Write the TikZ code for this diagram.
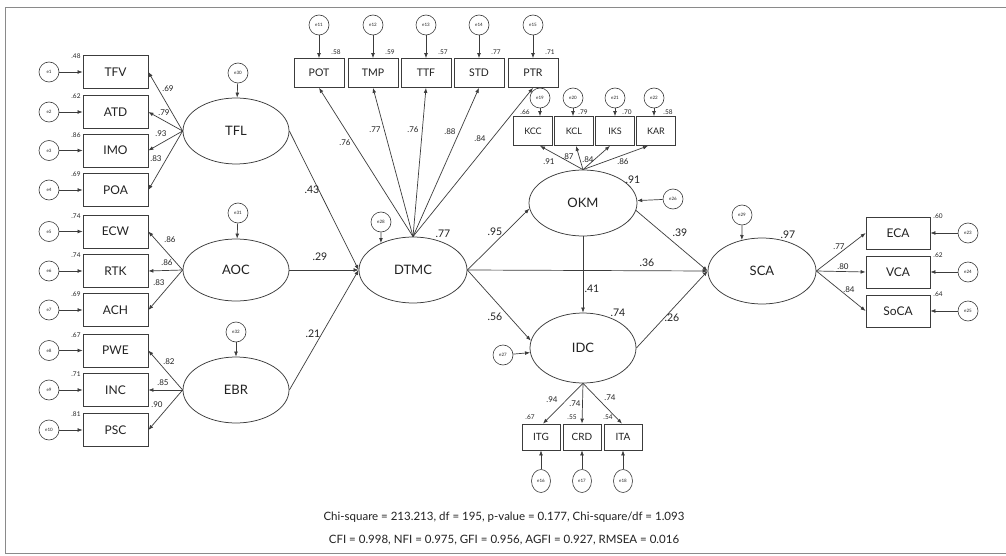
\documentclass[tikz,border=0pt]{standalone}
\usepackage{fontspec}
\setmainfont{Lato}
\usetikzlibrary{arrows.meta,shapes.geometric}
\definecolor{linec}{HTML}{3C3C3C}
\definecolor{txtc}{HTML}{222222}
\definecolor{framec}{HTML}{8A8A8A}
\begin{document}
\begin{tikzpicture}[x=1pt,y=-1pt,
  every node/.style={text=txtc},
  obs/.style={draw=linec, line width=0.75pt, rectangle, inner sep=0pt},
  obsL/.style={obs, minimum width=65pt, minimum height=33pt, font=\fontsize{12}{12}\selectfont},
  obsT/.style={obs, minimum width=50pt, minimum height=29pt, font=\fontsize{10.5}{10.5}\selectfont},
  obsK/.style={obs, minimum width=39pt, minimum height=29pt, font=\fontsize{9}{9}\selectfont},
  obsB/.style={obs, minimum width=38pt, minimum height=26pt, font=\fontsize{10}{10}\selectfont},
  obsR/.style={obs, minimum width=64pt, minimum height=32pt, font=\fontsize{12}{12}\selectfont},
  lat/.style={draw=linec, line width=0.75pt, ellipse, inner sep=0pt, minimum width=106pt, minimum height=66pt, font=\fontsize{13}{13}\selectfont},
  err/.style={draw=linec, line width=0.6pt, circle, inner sep=0pt, minimum size=20pt, font=\fontsize{4.5}{5}\selectfont},
  errB/.style={draw=linec, line width=0.6pt, ellipse, inner sep=0pt, minimum width=19pt, minimum height=23pt, font=\fontsize{4.5}{5}\selectfont},
  arr/.style={draw=linec, line width=0.7pt, -{Latex[length=5pt,width=3.8pt]}},
  coef/.style={font=\fontsize{10.5}{10.5}\selectfont, inner sep=0pt},
  ld/.style={font=\fontsize{8}{8}\selectfont, inner sep=0pt},
  rsq/.style={font=\fontsize{6.5}{6.5}\selectfont, inner sep=0pt},
  fit/.style={font=\fontsize{11.5}{12}\selectfont, inner sep=0pt}
]
\useasboundingbox (0,0) rectangle (1006,556);
\fill[white] (0,0) rectangle (1006,556);
\draw[framec, line width=0.8pt] (5,7) rectangle (1014,553);

% ---------- left indicators ----------
\foreach \n/\y/\e/\r in {TFV/72/1/.48, ATD/112/2/.62, IMO/150.5/3/.86, POA/190/4/.69,
  ECW/231.5/5/.74, RTK/271/6/.74, ACH/310/7/.69, PWE/350.5/8/.67, INC/390/9/.71, PSC/430/10/.81}{
  \node[obsL] (\n) at (115.5,\y) {\n};
  \node[err] (e\e) at (49,\y) {e\e};
  \draw[arr] (e\e) -- (\n);
  \node[rsq] (r\n) at (76,{\y-15.5}) {\r};
}

% ---------- exogenous latents ----------
\node[lat] (TFL) at (236,131) {TFL};
\node[lat, minimum height=62pt] (AOC) at (236,270) {AOC};
\node[lat] (EBR) at (236,390) {EBR};
\node[err] (e30) at (238,73) {e30};
\node[err] (e31) at (238,213) {e31};
\node[err] (e32) at (236,332) {e32};
\draw[arr] (e30) -- (TFL);
\draw[arr] (e31) -- (AOC);
\draw[arr] (e32) -- (EBR);

\foreach \b in {TFV,ATD,IMO,POA}{\draw[arr] (TFL.west) -- (\b.east);}
\foreach \b in {ECW,RTK,ACH}{\draw[arr] (AOC.west) -- (\b.east);}
\foreach \b in {PWE,INC,PSC}{\draw[arr] (EBR.west) -- (\b.east);}
\node[ld] (l1) at (168,89) {.69};
\node[ld] (l2) at (164,113) {.79};
\node[ld] (l3) at (161,134) {.93};
\node[ld] (l4) at (156,159) {.83};
\node[ld] (l5) at (170,240) {.86};
\node[ld] (l6) at (167,263) {.86};
\node[ld] (l7) at (159,283) {.83};
\node[ld] (l8) at (169,362) {.82};
\node[ld] (l9) at (163,383) {.85};
\node[ld] (l10) at (157,405) {.90};

% ---------- DTMC ----------
\node[lat, minimum width=108pt] (DTMC) at (413,270) {DTMC};
\node[err] (e28) at (381,222) {e28};
\draw[arr] (e28.south) -- (DTMC.140);
\node[coef] (rD) at (443,234) {.77};

\draw[arr] (TFL.east) -- (DTMC.west);
\draw[arr] (AOC.east) -- (DTMC.west);
\draw[arr] (EBR.east) -- (DTMC.west);
\node[coef] (c43) at (312,190) {.43};
\node[coef] (c29) at (320,257) {.29};
\node[coef] (c21) at (313,334) {.21};

% top indicators
\foreach \n/\x/\e/\r in {POT/319/11/.58, TMP/373/12/.59, TTF/426/13/.57, STD/479/14/.77, PTR/533/15/.71}{
  \node[obsT] (\n) at (\x,73) {\n};
  \node[err] (e\e) at (\x,25) {e\e};
  \draw[arr] (e\e) -- (\n);
  \node[rsq] (r\n) at ({\x+17},52) {\r};
  \draw[arr] (DTMC.north) -- (\n.south);
}
\node[ld] (t1) at (345,143) {.76};
\node[ld] (t2) at (375,130) {.77};
\node[ld] (t3) at (413,130) {.76};
\node[ld] (t4) at (450,132) {.88};
\node[ld] (t5) at (480,139) {.84};

% ---------- OKM ----------
\node[lat, minimum width=108pt] (OKM) at (583,203) {OKM};
\node[err] (e26) at (673,199) {e26};
\draw[arr] (e26) -- (OKM);
\node[coef] (rO) at (633,180) {.91};
\foreach \n/\x/\e/\ex/\r/\rx in {KCC/533/19/540/.66/525, KCL/574/20/573/.79/583, IKS/615/21/615/.70/627, KAR/656/22/654/.58/668}{
  \node[obsK] (\n) at (\x,131) {\n};
  \node[err] (e\e) at (\ex,98) {e\e};
  \draw[arr] (e\e.south) -- (e\e.south |- \n.north);
  \node[rsq] (r\n) at (\rx,112) {\r};
}
\draw[arr] (OKM.north) -- ([xshift=7pt]KCC.south);
\draw[arr] (OKM.north) -- ([xshift=2pt]KCL.south);
\draw[arr] (OKM.north) -- ([xshift=-5pt]IKS.south);
\draw[arr] (OKM.north) -- ([xshift=-8pt]KAR.south);
\node[ld] (k1) at (549,162) {.91};
\node[ld] (k2) at (568,157) {.87};
\node[ld] (k3) at (588,160) {.84};
\node[ld] (k4) at (623,162) {.86};

% ---------- IDC ----------
\node[lat, minimum height=70pt] (IDC) at (583,348) {IDC};
\node[err] (e27) at (503,355) {e27};
\draw[arr] (e27) -- (IDC);
\node[coef] (rI) at (618,313) {.74};
\foreach \n/\x/\e/\r/\rx in {ITG/541/16/.67/530, CRD/582/17/.55/572, ITA/623/18/.54/608}{
  \node[obsB] (\n) at (\x,437) {\n};
  \node[errB] (e\e) at (\x,481) {e\e};
  \draw[arr] (e\e) -- (\n);
  \node[rsq] (r\n) at (\rx,417) {\r};
}
\draw[arr] (IDC.south) -- ([xshift=2pt]ITG.north);
\draw[arr] (IDC.south) -- (CRD.north);
\draw[arr] (IDC.south) -- ([xshift=-1pt]ITA.north);
\node[ld] (i1) at (552,400) {.94};
\node[ld] (i2) at (575,404) {.74};
\node[ld] (i3) at (610,398) {.74};

% ---------- SCA ----------
\node[lat, minimum width=108pt] (SCA) at (762,271) {SCA};
\node[err] (e29) at (742,215) {e29};
\draw[arr] (e29.south) -- (SCA.123);
\node[coef] (rS) at (788,235) {.97};

\draw[arr] (DTMC.east) -- (OKM.186);
\draw[arr] (DTMC.east) -- (IDC.172);
\draw[arr] (OKM.south) -- (IDC.north);
\draw[arr] (DTMC.east) -- (SCA.west);
\draw[arr] (OKM.-8) -- (SCA.west);
\draw[arr] (IDC.east) -- (SCA.west);
\node[coef] (c95) at (495,232) {.95};
\node[coef] (c56) at (495,317) {.56};
\node[coef] (c41) at (592,289) {.41};
\node[coef] (c36) at (647,263) {.36};
\node[coef] (c39) at (680,233) {.39};
\node[coef] (c26) at (672,318) {.26};

\foreach \n/\y/\e/\r in {ECA/233/23/.60, VCA/272/24/.62, SoCA/311/25/.64}{
  \node[obsR] (\n) at (898,\y) {\n};
  \node[err] (e\e) at (968,\y) {e\e};
  \draw[arr] (e\e) -- (\n);
  \node[rsq] (r\n) at (938,{\y-17}) {\r};
  \draw[arr] (SCA.east) -- (\n.west);
}
\node[ld] (s1) at (839,247) {.77};
\node[ld] (s2) at (843,267) {.80};
\node[ld] (s3) at (849,290) {.84};

% ---------- fit indices ----------
\node[fit] (fit1) at (504,517) {Chi-square = 213.213, df = 195, p-value = 0.177, Chi-square/df = 1.093};
\node[fit] (fit2) at (504,540) {CFI = 0.998, NFI = 0.975, GFI = 0.956, AGFI = 0.927, RMSEA = 0.016};
\end{tikzpicture}
\end{document}
